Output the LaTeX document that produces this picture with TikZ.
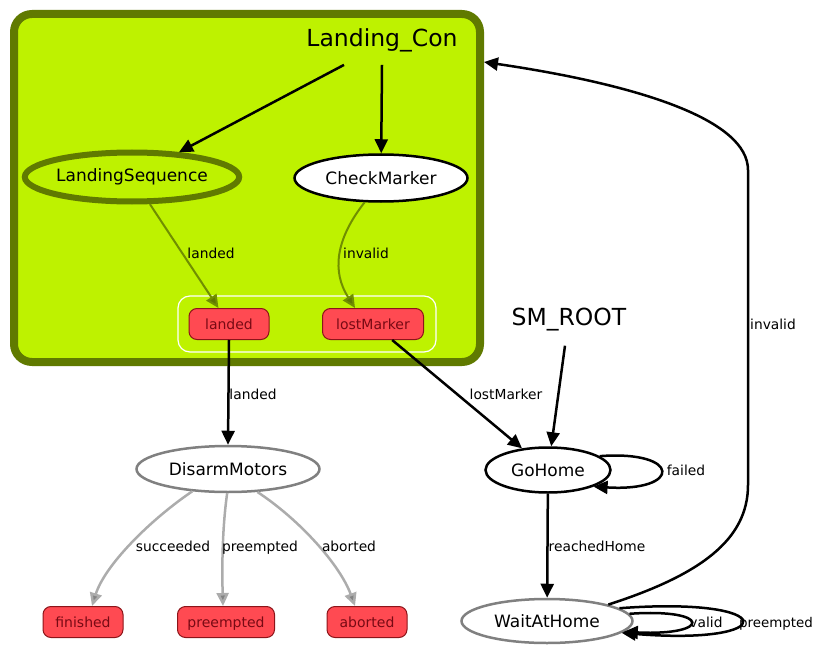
\documentclass[tikz,border=0pt]{standalone}
\usepackage{fontspec}
\setmainfont{DejaVu Sans}
\usetikzlibrary{arrows.meta,calc,shapes.geometric}

\definecolor{limefill}{RGB}{190,242,0}
\definecolor{oliveline}{RGB}{96,122,0}
\definecolor{oliveedge}{RGB}{112,142,0}
\definecolor{olivetip}{RGB}{95,120,0}
\definecolor{outred}{RGB}{255,74,82}
\definecolor{outredline}{RGB}{140,20,25}
\definecolor{outredtext}{RGB}{120,10,20}
\definecolor{stategray}{RGB}{128,128,128}
\definecolor{edgegray}{RGB}{172,172,172}
\definecolor{tipgray}{RGB}{130,130,130}

\begin{document}
\begin{tikzpicture}[x=1pt,y=-1pt,
  title/.style={font=\fontsize{23.5}{28}\selectfont, inner sep=0pt},
  state/.style={ellipse, draw=black, fill=white, line width=2.5pt, inner sep=0pt,
    font=\fontsize{17}{20}\selectfont},
  graystate/.style={state, draw=stategray},
  outcome/.style={rectangle, rounded corners=8pt, draw=outredline, fill=outred,
    line width=1pt, text=outredtext, inner sep=0pt, minimum height=31pt,
    text height=10.5pt, text depth=0.5pt, font=\fontsize{14}{16}\selectfont},
  elabel/.style={font=\fontsize{13.8}{16}\selectfont, inner sep=0pt,
    text height=11pt, text depth=0pt},
  trans/.style={line width=2.5pt, -{Triangle[length=14pt,width=13pt]}},
  innertrans/.style={line width=2pt, oliveedge,
    -{Triangle[length=13pt,width=12pt,fill=olivetip]}},
  graytrans/.style={line width=2.5pt, edgegray,
    -{Triangle[length=13pt,width=12pt,fill=tipgray]}}]

\useasboundingbox (0,0) rectangle (814,650);

% container state Landing_Con
\node[rectangle, rounded corners=18pt, draw=oliveline, fill=limefill, line width=8pt,
  minimum width=466pt, minimum height=348pt] (landcon) at (247,188) {};
\node[title] (contitle) at (382,40) {Landing\_Con};
\coordinate (conin) at (484,62);

% children of Landing_Con
\node[state, draw=oliveline, fill=none, line width=6pt, minimum width=214pt, minimum height=49pt]
  (seq) at (132,177) {LandingSequence};
\node[state, minimum width=173pt, minimum height=47pt] (check) at (381,178) {CheckMarker};

% outcomes of Landing_Con
\node[rectangle, rounded corners=12pt, draw=white, line width=1.2pt,
  minimum width=258pt, minimum height=56pt] (outs) at (307,324) {};
\node[outcome, minimum width=80pt] (landed) at (229,324) {landed};
\node[outcome, minimum width=101pt] (lm) at (373,324) {lostMarker};

% root level
\node[title] (smroot) at (569,320) {SM\_ROOT};
\node[graystate, minimum width=183pt, minimum height=46pt] (disarm) at (228,469) {DisarmMotors};
\node[state, minimum width=125pt, minimum height=45pt] (gohome) at (548,470) {GoHome};
\node[graystate, minimum width=171pt, minimum height=44pt] (wait) at (547,621) {WaitAtHome};

\node[outcome, minimum width=80pt] (fin) at (83,622) {finished};
\node[outcome, minimum width=97pt] (pre) at (226,622) {preempted};
\node[outcome, minimum width=80pt] (abt) at (367,622) {aborted};

% transitions inside Landing_Con
\draw[trans] ($(contitle.south)+(-38,13)$) -- (seq);
\draw[trans] ($(contitle.south)+(0,13)$) -- (check);
\draw[innertrans] (seq) -- (landed);
\draw[innertrans] (check.236) .. controls (335,240) and (332,272) .. ($(lm.north)+(-18,0)$);
\node[elabel] (l1) at (211,253) {landed};
\node[elabel] (l2) at (366,253) {invalid};

% transitions at root level
\draw[trans] (landed.south) -- (disarm.north);
\node[elabel] (l3) at (253,394) {landed};
\draw[trans] (lm) -- (gohome);
\node[elabel] (l4) at (506,394) {lostMarker};
\draw[trans] ($(smroot.south)+(-4,14)$) -- (gohome);

\draw[trans] (gohome.15) .. controls (682,450) and (682,492) .. (gohome.-20);
\node[elabel] (l5) at (686,470) {failed};
\draw[trans] (gohome) -- (wait);
\node[elabel] (l6) at (597,546) {reachedHome};

\draw[trans] (wait.5) .. controls (712,608) and (712,636) .. (wait.-8);
\node[elabel] (l7) at (706,622) {valid};
\draw[trans] (wait.10) .. controls (782,596) and (782,646) .. (wait.-9);
\node[elabel, font=\fontsize{13.4}{16}\selectfont] (l8) at (776,622) {preempted};

\draw[trans] (wait.15) .. controls (700,575) and (748,540) .. (748,485)
  -- (748,170) .. controls (748,120) and (640,85) .. (conin);
\node[elabel] (l9) at (773,324) {invalid};

% outcomes of DisarmMotors
\draw[graytrans] (disarm.212) .. controls (150,520) and (105,565) .. ($(fin.north)+(9,0)$);
\node[elabel] (l10) at (173,546) {succeeded};
\draw[graytrans] (disarm.268) .. controls (222,530) and (222,570) .. ($(pre.north)+(-3,0)$);
\node[elabel] (l11) at (260,546) {preempted};
\draw[graytrans] (disarm.-38) .. controls (300,520) and (340,565) .. ($(abt.north)+(-12,0)$);
\node[elabel] (l12) at (349,546) {aborted};

\end{tikzpicture}
\end{document}
